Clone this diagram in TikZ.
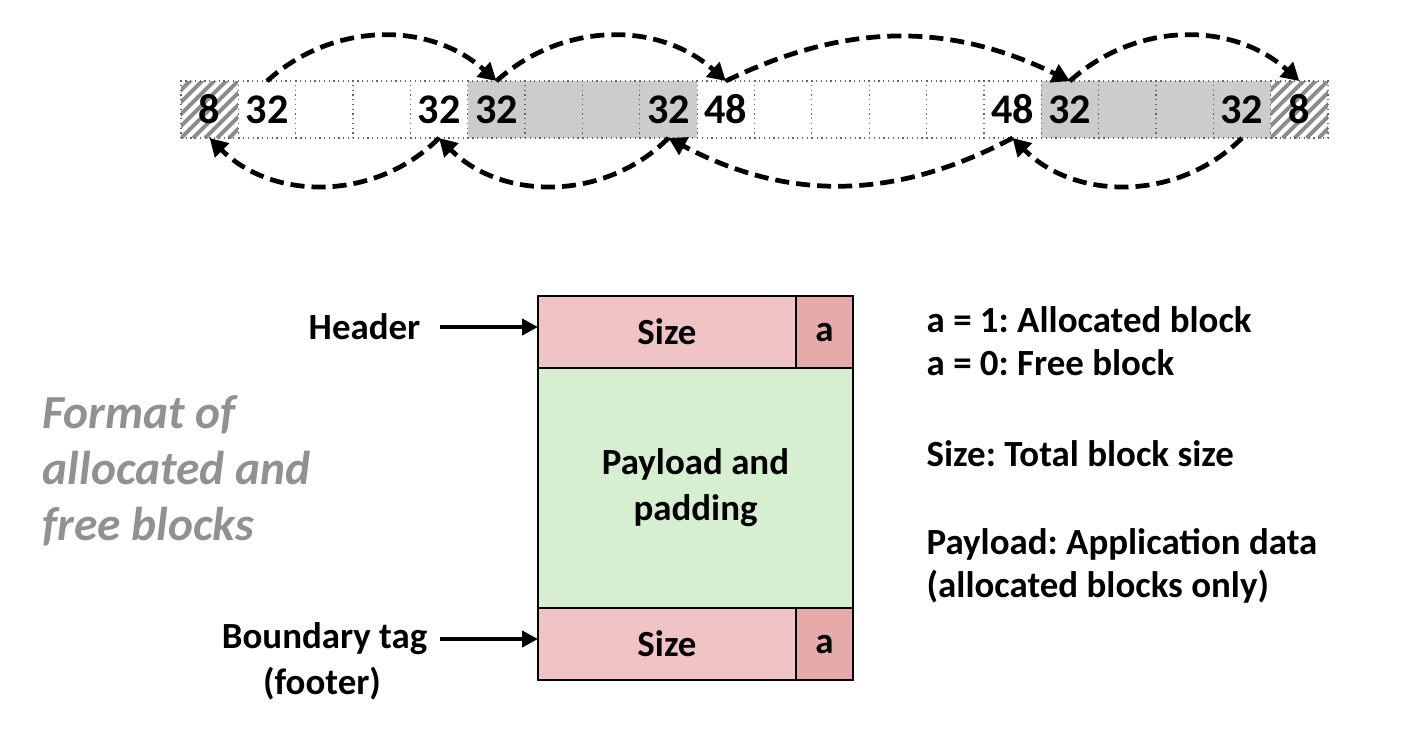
\documentclass[tikz,border=0pt]{standalone}
\usepackage{fontspec}
\setmainfont{Carlito}
\usepackage{tikz}
\usetikzlibrary{arrows.meta,positioning,backgrounds}
\definecolor{hdrpink}{HTML}{F0C4C4}
\definecolor{abit}{HTML}{E6AAAA}
\definecolor{paygreen}{HTML}{D5EFD0}
\definecolor{fmtgray}{HTML}{919191}
\frenchspacing
\tikzset{
  cell/.style={draw=black!60,densely dotted,line width=0.35pt,minimum width=5.735mm,
    minimum height=5.7mm,inner sep=0pt,outer sep=0pt,font=\bfseries\fontsize{12}{14}\selectfont},
  free/.style={fill=white},
  used/.style={fill=gray!40},
  hat/.style={},
  stripe/.style={line width=1.1pt,draw=black!45},
  lnk/.style={line width=1.35pt,dash pattern=on 4pt off 2pt,-{Triangle[length=5pt,width=5.5pt]}},
  ptr/.style={line width=1.3pt,-{Triangle[length=4.5pt,width=4.5pt]}},
  fld/.style={draw,line width=0.8pt,inner sep=0pt,outer sep=0pt,anchor=north west,minimum height=7.2mm},
  txt/.style={inner sep=0pt},
}

\begin{document}
\begin{tikzpicture}[font=\bfseries\fontsize{10.5}{12.2}\selectfont]
  \useasboundingbox (0,0) rectangle (14.22,-7.29);
  % heap strip
  \foreach \i/\t/\s in {0/8/hat,1/32/free,2//free,3//free,4/32/free,5/32/used,6//used,
      7//used,8/32/used,9/48/free,10//free,11//free,12//free,13//free,14/48/free,
      15/32/used,16//used,17//used,18/32/used,19/8/hat}
    \node[cell,\s] (c\i) at ({1.81+0.5735*(\i+0.5)},-1.095) {\t};
  % hatching of the end cells
  \begin{scope}[on background layer]
    \foreach \n in {c0,c19} {
      \begin{scope}
        \clip (\n.south west) rectangle (\n.north east);
        \foreach \k in {-5,...,5}
          \draw[stripe] ([xshift=\k*1.2mm]\n.south west) -- ++(0.6,0.6);
      \end{scope}
    }
  \end{scope}
  \draw[lnk] (c1.north) to[out=42,in=138] (c5.north);
  \draw[lnk] (c5.north) to[out=42,in=138] (c9.north);
  \draw[lnk] (c9.north) to[out=26,in=154] (c15.north);
  \draw[lnk] (c15.north) to[out=42,in=138] (c19.north);
  \draw[lnk] (c18.south) to[out=-135,in=-45] (c14.south);
  \draw[lnk] (c14.south) to[out=-152,in=-28] (c8.south);
  \draw[lnk] (c8.south) to[out=-135,in=-45] (c4.south);
  \draw[lnk] (c4.south) to[out=-135,in=-45] (c0.south);

  % block format
  \node[fld,fill=hdrpink,minimum width=2.58cm] (hdr) at (5.38,-2.96) {Size};
  \node[fld,fill=abit,minimum width=0.57cm] (hdra) at (hdr.north east) {a};
  \node[fld,fill=paygreen,minimum width=3.15cm,minimum height=2.4cm,align=center,
    font=\bfseries\fontsize{10.5}{13.1}\selectfont] (pay) at (hdr.south west) {Payload and\\padding};
  \node[fld,fill=hdrpink,minimum width=2.58cm] (ftr) at (pay.south west) {Size};
  \node[fld,fill=abit,minimum width=0.57cm] (ftra) at (ftr.north east) {a};

  \node[txt,anchor=east,inner xsep=1.9mm] (lhead) at (4.40,-3.27) {Header};
  \node[txt,anchor=east,inner xsep=1.2mm] (lbound) at (4.40,-6.39) {Boundary tag};
  \node[txt] (lfoot) at (3.22,-6.84) {(footer)};
  \draw[ptr] (lhead.east) -- (lhead.east -| hdr.west);
  \draw[ptr] (lbound.east) -- (lbound.east -| ftr.west);

  \node[txt,anchor=west,align=left,text=fmtgray,
    font=\bfseries\itshape\fontsize{13.5}{16}\selectfont] (fmt) at (0.42,-4.71)
    {Format of\\allocated and\\free blocks};

  \node[txt,anchor=west,align=left] (leg1) at (9.26,-3.415) {a = 1: Allocated block\\a = 0: Free block};
  \node[txt,anchor=west] (leg2) at (9.26,-4.54) {Size: Total block size};
  \node[txt,anchor=west,align=left] (leg3) at (9.26,-5.66) {Payload: Application data\\(allocated blocks only)};
\end{tikzpicture}
\end{document}
